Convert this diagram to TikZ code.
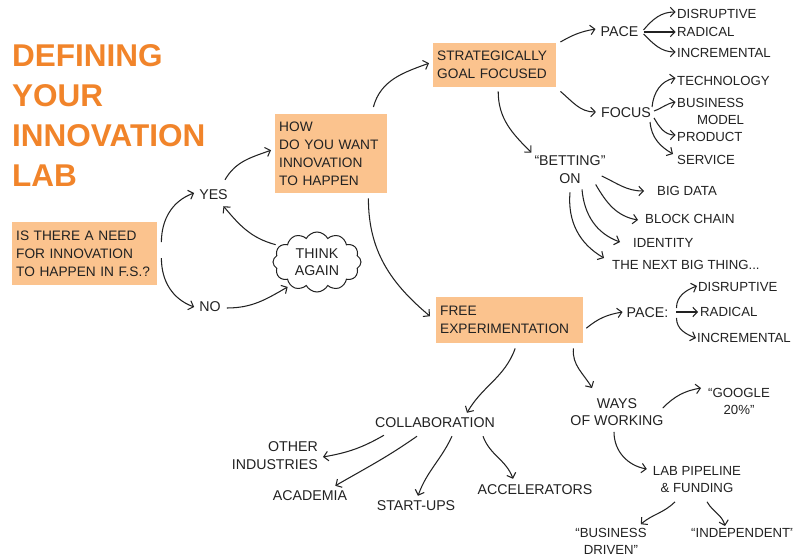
\documentclass[tikz,border=0pt]{standalone}
\usepackage{fontspec}
\setmainfont{Liberation Sans}
\usetikzlibrary{arrows.meta,shapes.symbols}
\definecolor{orng}{HTML}{F1842A}
\definecolor{boxc}{HTML}{FBC38E}
\definecolor{ink}{HTML}{222222}
\tikzset{
 ttl/.style={font=\fontsize{31.5}{40}\selectfont\bfseries, text=orng, anchor=base west, inner sep=0pt},
 lbl/.style={font=\fontsize{14.2}{17.5}\selectfont, text=ink, inner sep=0pt, align=center},
 lbll/.style={lbl, anchor=west, align=left},
 lsm/.style={lbll, font=\fontsize{13.2}{17}\selectfont},
 obox/.style={fill=boxc, font=\fontsize{13.7}{18}\selectfont, text=ink, align=left, inner xsep=4pt, inner ysep=0pt, anchor=north west},
 arr/.style={draw=ink, line width=1.05pt, -{Straight Barb[length=4.5pt,width=9.5pt]}},
 thinkcloud/.style={cloud, draw=ink, line width=1pt, cloud puffs=12, cloud puff arc=125, aspect=1.5, minimum width=88pt, minimum height=60pt, inner sep=0pt, text=ink, font=\fontsize{14.2}{17.5}\selectfont, align=center}
}
\begin{document}
\begin{tikzpicture}[x=1pt,y=1pt]
\fill[white] (0,0) rectangle (793,558);
\useasboundingbox (0,0) rectangle (793,558);
% title
\node[ttl] (t1) at (12,491) {DEFINING};
\node[ttl] (t2) at (12,451) {YOUR};
\node[ttl] (t3) at (12,411) {INNOVATION};
\node[ttl] (t4) at (12,371) {LAB};
% boxes
\node[obox, text width=137pt, minimum height=63pt] (ques) at (12,336) {IS THERE A NEED\\FOR INNOVATION\\TO HAPPEN IN F.S.?};
\node[obox, text width=104pt, minimum height=79pt] (how) at (275,444) {HOW\\DO YOU WANT\\INNOVATION\\TO HAPPEN};
\node[obox, text width=115pt, minimum height=44pt] (strat) at (433,515) {STRATEGICALLY\\GOAL FOCUSED};
\node[obox, text width=139pt, minimum height=46pt] (free) at (436,261) {FREE\\EXPERIMENTATION};
% left part
\node[lbl] (yes) at (213.5,363) {YES};
\node[lbl] (no) at (210,251) {NO};
\node[thinkcloud] (think) at (317,296) {THINK\\AGAIN};
% strategic branch
\node[lbl] (pace1) at (619.5,526) {PACE};
\node[lsm] (dis1) at (677,544) {DISRUPTIVE};
\node[lsm] (rad1) at (677,526) {RADICAL};
\node[lsm] (inc1) at (677,505) {INCREMENTAL};
\node[lbl] (focus) at (626,445) {FOCUS};
\node[lsm] (tech) at (677,477) {TECHNOLOGY};
\node[lsm, align=right] (bus) at (677,447) {BUSINESS\\MODEL};
\node[lsm] (prod) at (677,421) {PRODUCT};
\node[lsm] (serv) at (677,398) {SERVICE};
\node[lbl] (bet) at (570,388.5) {“BETTING”\\ON};
\node[lsm] (bigdata) at (657,367) {BIG DATA};
\node[lsm] (block) at (645,339) {BLOCK CHAIN};
\node[lsm] (ident) at (633,315) {IDENTITY};
\node[lsm] (next) at (612,293) {THE NEXT BIG THING...};
% free branch
\node[lbl] (pace2) at (647.5,245) {PACE:};
\node[lsm] (dis2) at (698,271) {DISRUPTIVE};
\node[lsm] (rad2) at (700,246) {RADICAL};
\node[lsm] (inc2) at (697,220) {INCREMENTAL};
\node[lbl] (collab) at (435,135) {COLLABORATION};
\node[lbl, anchor=east, align=right] (other) at (318,102.5) {OTHER\\INDUSTRIES};
\node[lbl] (acad) at (310,62) {ACADEMIA};
\node[lbl] (startups) at (416,52) {START-UPS};
\node[lbl] (accel) at (535,68) {ACCELERATORS};
\node[lbl] (ways) at (617,146) {WAYS\\OF WORKING};
\node[lsm, anchor=center, align=center] (google) at (739,157) {“GOOGLE\\20\%”};
\node[lsm, anchor=center, align=center] (lab) at (697,78.5) {LAB PIPELINE\\\& FUNDING};
\node[lsm, anchor=center, align=center] (busdr) at (611,16.5) {“BUSINESS\\DRIVEN”};
\node[lsm] (indep) at (691,25) {“INDEPENDENT”};
% connectors
\draw[arr] ([shift={(4,11.5)}]ques.east) to[out=90,in=200] ([shift={(-5,2)}]yes.west);
\draw[arr] ([shift={(4,-4.5)}]ques.east) to[out=-90,in=160] ([shift={(-5,0)}]no.west);
\draw[arr] ([shift={(11.5,10)}]yes.north) to[out=60,in=200] ([shift={(-4,3.5)}]how.west);
\draw[arr] ([shift={(-2,3)}]think.160) to[out=165,in=-50] ([shift={(10,-6)}]yes.south);
\draw[arr] ([shift={(6,-1)}]no.east) to[out=0,in=210] ([shift={(-2,-2)}]think.220);
\draw[arr] ([shift={(-14,7)}]how.north east) to[out=75,in=200] ([shift={(-4,2)}]strat.west);
\draw[arr] ([shift={(-19,-5)}]how.south east) to[out=-90,in=140] ([shift={(-6,4)}]free.west);
\draw[arr] ([shift={(4,1)}]strat.north east) to[out=30,in=190] ([shift={(-5,3)}]pace1.west);
\draw[arr] ([shift={(4,-4)}]strat.south east) to[out=-40,in=180] ([shift={(-5,1)}]focus.west);
\draw[arr] ([shift={(3.5,-4)}]strat.south) to[out=-90,in=135] ([shift={(-3,3)}]bet.north west);
\draw[arr] ([shift={(5,2)}]pace1.east) to[out=50,in=180] ([shift={(-1.5,2)}]dis1.west);
\draw[arr] ([shift={(5,0)}]pace1.east) to[out=0,in=180] ([shift={(-1.5,0)}]rad1.west);
\draw[arr] ([shift={(5,-2)}]pace1.east) to[out=-45,in=180] ([shift={(-1.5,1)}]inc1.west);
\draw[arr] ([shift={(1,6)}]focus.east) to[out=85,in=190] ([shift={(-1.5,3)}]tech.west);
\draw[arr] ([shift={(3,2)}]focus.east) to[out=20,in=190] ([shift={(-1.5,9)}]bus.west);
\draw[arr] ([shift={(3,-5)}]focus.east) to[out=-60,in=180] ([shift={(-1.5,2)}]prod.west);
\draw[arr] ([shift={(-1,-9)}]focus.east) to[out=-85,in=150] ([shift={(-4,6)}]serv.west);
\draw[arr] ([shift={(-4,-6.5)}]bet.east) to[out=-25,in=180] ([shift={(-13,0)}]bigdata.west);
\draw[arr] ([shift={(-10,-1)}]bet.south east) to[out=-60,in=170] ([shift={(-7,-1)}]block.west);
\draw[arr] ([shift={(12,-6)}]bet.south) to[out=-85,in=160] ([shift={(-13,1)}]ident.west);
\draw[arr] ([shift={(0,-9)}]bet.south) to[out=-95,in=150] ([shift={(-8,7)}]next.west);
\draw[arr] ([shift={(3,-8)}]free.east) to[out=40,in=190] ([shift={(-4,1)}]pace2.west);
\draw[arr] ([shift={(8,5)}]pace2.east) to[out=90,in=200] ([shift={(-1,1)}]dis2.west);
\draw[arr] ([shift={(8,1)}]pace2.east) to[out=0,in=180] ([shift={(-2,0)}]rad2.west);
\draw[arr] ([shift={(8,-5)}]pace2.east) to[out=-90,in=160] ([shift={(-1,0)}]inc2.west);
\draw[arr] ([shift={(5.5,-5)}]free.south) to[out=-110,in=60] ([shift={(32,5)}]collab.north);
\draw[arr] ([shift={(-10,-5)}]free.south east) to[out=-95,in=120] ([shift={(-25,10)}]ways.north);
\draw[arr] ([shift={(-1,4)}]ways.east) to[out=45,in=190] ([shift={(-7,13)}]google.west);
\draw[arr] ([shift={(-3,-6)}]ways.south) to[out=-90,in=170] ([shift={(-6,10.5)}]lab.west);
\draw[arr] ([shift={(-22,-9)}]lab.south) to[out=-135,in=40] ([shift={(-6,4)}]busdr.north east);
\draw[arr] ([shift={(10,-9)}]lab.south) to[out=-60,in=105] ([shift={(34,7)}]indep.west);
\draw[arr] ([shift={(9,-7)}]collab.south west) to[out=-150,in=10] ([shift={(5,-1.5)}]other.east);
\draw[arr] ([shift={(-18,-8)}]collab.south) to[out=-145,in=30] ([shift={(-12,5)}]acad.north east);
\draw[arr] ([shift={(17,-8)}]collab.south) to[out=-115,in=70] ([shift={(2,5)}]startups.north);
\draw[arr] ([shift={(48,-8)}]collab.south) to[out=-70,in=110] ([shift={(-22,6)}]accel.north);
\end{tikzpicture}
\end{document}
